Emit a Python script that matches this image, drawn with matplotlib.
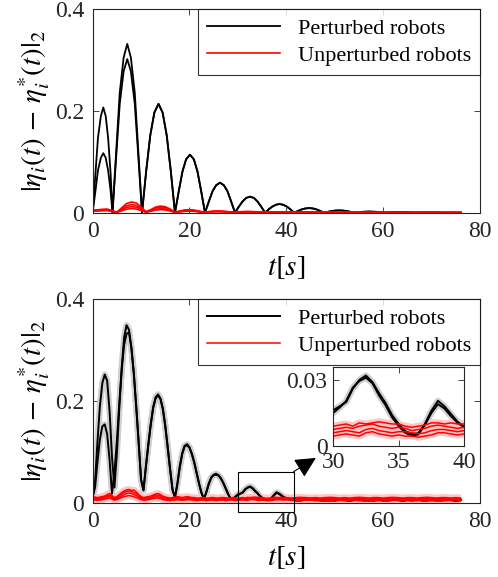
import numpy as np
import matplotlib
matplotlib.use("Agg")
import matplotlib.pyplot as plt
from matplotlib.patches import Rectangle

plt.rcParams['font.family'] = 'serif'
plt.rcParams['font.serif'] = ['Liberation Serif', 'DejaVu Serif']
plt.rcParams['mathtext.fontset'] = 'stix'

# ---- top panel: ideal response ----
t_top = [0, 0.6, 1.1, 1.7, 2.2, 2.7, 3.2, 3.7,
         4.1, 4.9, 5.6, 6.4, 7.15, 7.9, 8.7, 9.4,
         10.2, 11.05, 11.9, 12.75, 13.6, 14.45, 15.3, 16.15,
         17.0, 17.8, 18.55, 19.3, 20.1, 20.9, 21.65, 22.4,
         23.2, 24.0, 24.75, 25.5, 26.3, 27.1, 27.85, 28.6,
         29.4, 30.2, 30.95, 31.7, 32.5, 33.3, 34.05, 34.8,
         35.6, 36.35, 37.1, 37.85, 38.6, 39.35, 40.1, 40.85,
         41.6, 42.4, 43.15, 43.9, 44.7, 45.5, 46.25, 47.0,
         47.8, 48.6, 49.35, 50.1, 50.9, 51.7, 52.45, 53.2,
         54.0, 55.5, 57.1, 58.7, 60.2, 61.7, 63.3, 64.9, 66.4, 68.0,
         69.5, 71.0, 72.6, 74.4, 76.0]

pert1_top = [0, .079, .147, .190, .207, .190, .147, .079,
             0, .126, .236, .305, .332, .305, .236, .126,
             0, .081, .152, .197, .214, .197, .152, .081,
             0, .043, .081, .105, .114, .105, .081, .043,
             0, .022, .042, .054, .059, .054, .042, .022,
             0, .012, .022, .029, .0315, .029, .022, .012,
             0, .0065, .012, .0156, .017, .0156, .012, .0065,
             0, .0034, .0064, .0083, .009, .0083, .0064, .0034,
             0, .0017, .0032, .0041, .0045, .0041, .0032, .0017,
             0, .0016, .0022, .0016, 0, .0007, .001, .0007, 0, .0003,
             .0005, .0003, 0, .0002, .0002]
pert2_first = [0, .044, .083, .108, .117, .108, .083, .044,
               0, .115, .214, .278, .302, .278, .214, .115]
pert2_top = pert2_first + pert1_top[16:]

t_red_top = list(range(0, 31)) + list(range(32, 77, 2))
unpert_top = [
    [.005, .0056, .0066, .007, .0042, .001, .0095, .018, .021, .019, .0115,
     .002, .0058, .011, .013, .0117, .0072, .0013, .003, .0054, .006, .0051,
     .003, .0009, .002, .003, .0032, .0028, .002, .0012, .0018,
     .0024, .0018, .001, .0016, .0018, .0012, .0014, .0012, .0009, .001, .0008,
     .0007, .0008, .0006, .0005, .0005, .0004, .0004, .0003, .0003, .0003, .0002, .0002],
    [.004, .0048, .0057, .006, .0036, .0008, .0072, .0136, .016, .0144, .0088,
     .0016, .005, .0094, .011, .0099, .006, .0011, .0025, .0045, .005, .0043,
     .0025, .0008, .0018, .0026, .0028, .0024, .0017, .001, .0015,
     .002, .0015, .0009, .0013, .0015, .001, .0012, .001, .0008, .0008, .0007,
     .0006, .0007, .0005, .0004, .0004, .0004, .0003, .0003, .0003, .0002, .0002, .0002],
    [.0035, .004, .0047, .005, .003, .0006, .0054, .0102, .012, .0108, .0066,
     .0012, .0036, .0068, .008, .0072, .0044, .0008, .002, .0036, .004, .0034,
     .002, .0006, .0015, .0022, .0024, .002, .0014, .0008, .0012,
     .0016, .0012, .0008, .001, .0012, .0009, .001, .0008, .0007, .0007, .0006,
     .0005, .0006, .0004, .0004, .0003, .0003, .0003, .0003, .0002, .0002, .0002, .0002],
    [.003, .0034, .0038, .004, .0025, .0005, .0036, .0068, .008, .0072, .0044,
     .0008, .0027, .0051, .006, .0054, .0033, .0006, .0015, .0027, .003, .0026,
     .0015, .0005, .0012, .0018, .002, .0017, .0012, .0007, .001,
     .0013, .001, .0007, .0009, .001, .0008, .0008, .0007, .0006, .0006, .0005,
     .0004, .0005, .0004, .0003, .0003, .0003, .0002, .0002, .0002, .0002, .0002, .0001],
]

# ---- bottom panel: experiment ----
t_bot = np.concatenate([np.arange(0, 40.5, 0.5), np.arange(41, 77, 1)])

pert1_bot = [.010, .040, .120, .190, .235, .252, .240, .180, .090, .030,
             .095, .185, .265, .325, .349, .340, .305, .255, .190, .120,
             .045, .024, .072, .115, .155, .188, .207, .213, .205, .185,
             .152, .110, .066, .026, .010, .038, .072, .097, .112, .115,
             .109, .096, .079, .058, .037, .019, .007, .022, .038, .050,
             .055, .057, .054, .048, .039, .028, .017, .008, .007, .012,
             .0163, .018, .020, .026, .030, .032, .029, .024, .0195, .014,
             .010, .0068, .0055, .0058, .010, .016, .0205, .018, .0145, .011,
             .0088,
             .006, .004, .005, .007, .008, .006, .004, .005, .004, .005,
             .006, .005, .004, .005, .006, .005, .004, .005, .005, .004,
             .005, .006, .005, .004, .005, .005, .006, .004, .005, .005,
             .004, .005, .006, .005, .004, .005]
pert2_bot = [.010, .030, .080, .125, .150, .154, .135, .085, .018, .060,
             .120, .195, .260, .310, .332, .335, .305, .255, .188, .118,
             .046, .025, .070, .113, .153, .186, .205, .211, .204, .184,
             .150, .108, .065, .025, .011, .036, .070, .096, .111, .113,
             .108, .095, .078, .057, .036, .018, .008, .021, .037, .049,
             .054, .055, .053, .047, .038, .027, .016, .008, .008, .012,
             .015, .0175, .0205, .0265, .0295, .031, .0285, .023, .0185, .013,
             .009, .006, .0048, .0052, .0095, .015, .019, .017, .0135, .0105,
             .0085,
             .005, .005, .004, .006, .007, .005, .005, .004, .005, .004,
             .005, .005, .004, .005, .005, .004, .005, .004, .005, .005,
             .004, .005, .005, .004, .005, .004, .005, .005, .004, .005,
             .005, .004, .005, .005, .004, .005]

unpert_bot = [
    [.012, .011, .010, .011, .012, .013, .016, .018, .014, .010,
     .012, .016, .020, .023, .025, .026, .024, .025, .021, .016,
     .012, .010, .011, .012, .013, .015, .017, .018, .016, .013,
     .011, .010, .009, .010, .011, .012, .011, .010, .011, .012,
     .011, .010, .010, .009, .009, .010, .010, .009, .009, .010,
     .010, .009, .009, .010, .010, .0095, .009, .0095, .010, .0095,
     .009, .0095, .010, .009, .0105, .010, .0105, .011, .0105, .010,
     .010, .009, .0085, .009, .0095, .0105, .0105, .010, .0105, .010,
     .010,
     .009, .010, .0105, .010, .009, .010, .009, .010, .0105, .010,
     .009, .010, .009, .010, .0105, .010, .009, .010, .010, .009,
     .010, .0105, .010, .009, .010, .010, .009, .010, .0105, .010,
     .009, .010, .010, .009, .010, .009],
    [.010, .009, .008, .009, .010, .011, .013, .015, .012, .008,
     .010, .013, .017, .020, .022, .023, .022, .020, .018, .014,
     .010, .008, .009, .010, .011, .013, .015, .015, .013, .011,
     .009, .008, .008, .009, .009, .010, .009, .008, .009, .010,
     .0095, .009, .0085, .008, .008, .0085, .0085, .008, .008, .0085,
     .0085, .008, .008, .0085, .0085, .008, .008, .0085, .0085, .008,
     .0075, .008, .0085, .008, .009, .0095, .010, .009, .0085, .008,
     .0085, .008, .007, .0075, .008, .009, .0095, .009, .0085, .008,
     .0085,
     .008, .0085, .008, .008, .0085, .008, .008, .0085, .0085, .008,
     .008, .0085, .008, .008, .0085, .0085, .008, .008, .0085, .008,
     .008, .0085, .0085, .008, .008, .0085, .008, .0085, .008, .008,
     .0085, .008, .008, .0085, .008, .008],
    [.008, .007, .006, .007, .008, .009, .010, .012, .010, .006,
     .008, .010, .013, .016, .018, .019, .018, .016, .014, .011,
     .008, .006, .007, .008, .009, .010, .012, .012, .010, .008,
     .007, .006, .006, .007, .007, .008, .007, .006, .007, .008,
     .008, .007, .007, .006, .006, .007, .007, .006, .006, .007,
     .007, .006, .006, .007, .007, .006, .006, .007, .007, .006,
     .006, .0065, .007, .0065, .006, .0075, .008, .007, .0065, .006,
     .0065, .0065, .006, .0055, .006, .007, .0075, .0075, .007, .0065,
     .007,
     .006, .007, .006, .006, .007, .006, .006, .007, .007, .006,
     .006, .007, .006, .006, .007, .007, .006, .006, .007, .006,
     .006, .007, .007, .006, .006, .007, .006, .007, .006, .006,
     .007, .006, .006, .007, .006, .006],
    [.006, .005, .005, .005, .006, .007, .008, .009, .007, .005,
     .006, .008, .010, .012, .013, .014, .013, .012, .010, .008,
     .006, .005, .005, .006, .007, .008, .009, .009, .008, .006,
     .005, .005, .004, .005, .005, .006, .005, .005, .005, .006,
     .006, .005, .005, .004, .005, .005, .005, .004, .005, .005,
     .005, .004, .005, .005, .005, .004, .005, .005, .005, .004,
     .0045, .005, .0055, .005, .0045, .006, .0065, .0055, .005, .0045,
     .005, .0045, .0045, .004, .0045, .005, .006, .006, .0055, .005,
     .0055,
     .005, .005, .004, .005, .005, .004, .005, .005, .004, .005,
     .005, .004, .005, .005, .004, .005, .005, .004, .005, .005,
     .004, .005, .005, .004, .005, .005, .004, .005, .005, .004,
     .005, .005, .004, .005, .005, .004]
]

ylabel = r'$|\eta_i(t)\,-\,\eta_i^{*}(t)|_2$'
axis_col = '#262626'
fs = 17
lab_fs = 21


def style_axes(ax, xticks, yticks, ylabels):
    ax.set_xticks(xticks)
    ax.set_yticks(yticks)
    ax.set_yticklabels(ylabels)
    ax.tick_params(direction='in', top=True, right=True, length=4,
                   width=0.6, colors=axis_col, labelsize=fs, pad=6)
    for s in ax.spines.values():
        s.set_color(axis_col)
        s.set_linewidth(0.8)


fig = plt.figure(figsize=(4.98, 5.77), dpi=100)

# top panel
ax1 = fig.add_axes([0.186, 0.6314, 0.778, 0.3525])
ax1.plot(t_top, pert1_top, color='k', lw=1.3, label='Perturbed robots')
ax1.plot(t_top, pert2_top, color='k', lw=1.3)
for i, r in enumerate(unpert_top):
    ax1.plot(t_red_top, r, color='r', lw=1.2,
             label='Unperturbed robots' if i == 0 else None)
ax1.set_xlim(0, 80)
ax1.set_ylim(0, 0.4)
style_axes(ax1, [0, 20, 40, 60, 80], [0, 0.2, 0.4], ['0', '0.2', '0.4'])
ax1.set_xlabel(r'$t[s]$', fontsize=lab_fs, labelpad=9)
ax1.set_ylabel(ylabel, fontsize=lab_fs, labelpad=2)
leg = ax1.legend(loc='upper right', fontsize=16, frameon=True, fancybox=False,
                 borderaxespad=0, handlelength=3.3, borderpad=0.4,
                 labelspacing=0.3)
leg.get_frame().set_edgecolor('k')
leg.get_frame().set_linewidth(0.8)


def draw_bot(ax):
    # shaded spread behind the mean lines
    for s in (pert1_bot, pert2_bot):
        ax.plot(t_bot, s, color='#cfcfcf', lw=4.5, solid_capstyle='butt')
    for r in unpert_bot:
        ax.plot(t_bot, r, color='#ffc4c4', lw=5, solid_capstyle='butt')
    h1, = ax.plot(t_bot, pert1_bot, color='k', lw=1.4)
    ax.plot(t_bot, pert2_bot, color='k', lw=1.4)
    hr = None
    for r in unpert_bot:
        hr, = ax.plot(t_bot, r, color='r', lw=1.1)
    return h1, hr


ax2 = fig.add_axes([0.186, 0.1288, 0.778, 0.3525])
h1, hr = draw_bot(ax2)
ax2.set_xlim(0, 80)
ax2.set_ylim(0, 0.4)
style_axes(ax2, [0, 20, 40, 60, 80], [0, 0.2, 0.4], ['0', '0.2', '0.4'])
ax2.set_xlabel(r'$t[s]$', fontsize=lab_fs, labelpad=9)
ax2.set_ylabel(ylabel, fontsize=lab_fs, labelpad=2)
leg2 = ax2.legend([h1, hr], ['Perturbed robots', 'Unperturbed robots'],
                  loc='upper right', fontsize=16, frameon=True, fancybox=False,
                  borderaxespad=0, handlelength=3.3, borderpad=0.4,
                  labelspacing=0.3)
leg2.get_frame().set_edgecolor('k')
leg2.get_frame().set_linewidth(0.8)

# zoom box and arrow
ax2.add_patch(Rectangle((30, -0.018), 11.5, 0.079, fill=False, ec='k',
                        lw=0.8, clip_on=False, zorder=5))
ax2.annotate('', xy=(46.1, 0.088), xytext=(41.5, 0.061),
             arrowprops=dict(arrowstyle='-|>,head_length=0.8,head_width=0.4',
                             mutation_scale=16, color='k', lw=0.8,
                             shrinkA=0, shrinkB=0))

# inset
ax3 = fig.add_axes([0.669, 0.227, 0.263, 0.1375])
draw_bot(ax3)
ax3.set_xlim(30, 40)
ax3.set_ylim(0, 0.036)
style_axes(ax3, [30, 35, 40], [0, 0.03], ['0', '0.03'])
ax3.tick_params(pad=4)

fig.savefig('out.png', dpi=100)
